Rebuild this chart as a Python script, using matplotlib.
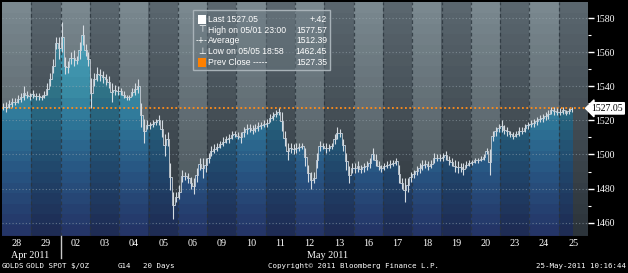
import numpy as np
import matplotlib.pyplot as plt
from matplotlib.patches import Polygon, Rectangle

# Day labels (20 trading days) and intraday bars (10 per day, last day partial)
days = ["28", "29", "02", "03", "04", "05", "06", "09", "10", "11",
        "12", "13", "16", "17", "18", "19", "20", "23", "24", "25"]
bars_per_day = 10

highs = [
    1530, 1531, 1532, 1533, 1533, 1535, 1536, 1540, 1537, 1536,     # 28
    1538, 1536, 1536, 1535, 1537, 1542, 1548, 1556, 1569, 1569,     # 29
    1577.57, 1557, 1555, 1560, 1561, 1558, 1566, 1576, 1565, 1560,  # 02
    1545, 1548, 1551, 1550, 1549, 1547, 1546, 1542, 1541, 1540,     # 03
    1539, 1537, 1535, 1535, 1539, 1542, 1544, 1530, 1521, 1520,     # 04
    1519, 1520, 1521, 1523, 1520, 1512, 1513, 1495, 1478, 1478,     # 05
    1482, 1491, 1490, 1489, 1487, 1486, 1492, 1498, 1498, 1498,     # 06
    1501, 1505, 1506, 1507, 1508, 1510, 1511, 1512, 1514, 1514,     # 09
    1513, 1513, 1516, 1518, 1518, 1517, 1518, 1519, 1519, 1520,     # 10
    1521, 1524, 1525, 1526, 1527, 1525, 1514, 1507, 1507, 1506,     # 11
    1507, 1507, 1507, 1504, 1494, 1490, 1490, 1501, 1508, 1507,     # 12
    1507, 1506, 1507, 1512, 1516, 1515, 1509, 1501, 1493, 1495,     # 13
    1495, 1496, 1494, 1495, 1496, 1498, 1504, 1500, 1496, 1494,     # 16
    1495, 1496, 1497, 1497, 1498, 1494, 1486, 1486, 1486, 1490,     # 17
    1491, 1493, 1495, 1497, 1497, 1496, 1497, 1501, 1500, 1500,     # 18
    1501, 1502, 1499, 1498, 1497, 1496, 1495, 1495, 1496, 1497,     # 19
    1497, 1498, 1498, 1499, 1500, 1504, 1503, 1514, 1516, 1518,     # 20
    1520, 1517, 1516, 1514, 1513, 1514, 1516, 1516, 1518, 1519,     # 23
    1520, 1521, 1522, 1523, 1524, 1525, 1526, 1528, 1528, 1527,     # 24
    1527, 1528, 1526, 1527, 1528,                                   # 25
]
lows = [
    1526, 1525, 1527, 1528, 1529, 1530, 1531, 1532, 1533, 1532,
    1533, 1532, 1532, 1532, 1533, 1535, 1540, 1548, 1562, 1556,
    1560, 1547, 1548, 1553, 1552, 1553, 1556, 1564, 1558, 1552,
    1527, 1540, 1543, 1543, 1542, 1541, 1539, 1531, 1535, 1535,
    1535, 1533, 1532, 1532, 1534, 1535, 1536, 1516, 1507, 1515,
    1515, 1516, 1517, 1517, 1510, 1499, 1505, 1479, 1462.45, 1472,
    1474, 1484, 1485, 1483, 1480, 1477, 1484, 1491, 1486, 1490,
    1495, 1499, 1501, 1502, 1504, 1505, 1507, 1507, 1509, 1510,
    1509, 1507, 1510, 1512, 1513, 1512, 1513, 1514, 1515, 1516,
    1516, 1519, 1520, 1522, 1523, 1514, 1505, 1497, 1501, 1500,
    1501, 1502, 1503, 1493, 1484, 1480, 1483, 1492, 1502, 1503,
    1501, 1502, 1503, 1506, 1509, 1510, 1502, 1491, 1483, 1489,
    1489, 1490, 1489, 1490, 1491, 1492, 1497, 1493, 1491, 1490,
    1491, 1492, 1492, 1493, 1494, 1483, 1480, 1472, 1478, 1484,
    1486, 1488, 1489, 1491, 1492, 1491, 1492, 1495, 1496, 1496,
    1496, 1497, 1494, 1493, 1490, 1489, 1490, 1488, 1492, 1493,
    1494, 1495, 1495, 1496, 1497, 1500, 1488, 1508, 1511, 1513,
    1513, 1512, 1511, 1510, 1509, 1510, 1511, 1512, 1513, 1515,
    1516, 1516, 1517, 1519, 1519, 1520, 1521, 1524, 1523, 1523,
    1523, 1524, 1523, 1524, 1525,
]

last_price = 1527.05
prev_close = 1527.35
y_ticks = [1460, 1480, 1500, 1520, 1540, 1560, 1580]

legend_labels = ["Last 1527.05", "High on 05/01 23:00", "Average",
                 "Low on 05/05 18:58", "Prev Close -----"]
legend_values = ["+.42", "1577.57", "1512.39", "1462.45", "1527.35"]

ylo, yhi = 1452.2, 1589.4
ndays = len(days)

plt.rcParams['font.family'] = ['Liberation Serif', 'DejaVu Sans']

fig = plt.figure(figsize=(6.28, 2.73), dpi=100, facecolor='black')
ax = fig.add_axes([2 / 628, 37 / 273, 586 / 628, 234 / 273])
ax.set_facecolor('black')
ax.set_xlim(0, ndays)
ax.set_ylim(ylo, yhi)

# ---- background: alternating day bands with stepped vertical gradient
ny, per = 234, 30
t = np.floor(np.linspace(0, 1, ny) * 22) / 22
band = (np.arange(ndays * per) // per) % 2  # 0 light, 1 dark

def grad(top, bot):
    top, bot = np.array(top, float), np.array(bot, float)
    return top[None, :] + (bot - top)[None, :] * t[:, None]

g_light = grad((122, 136, 143), (66, 76, 82))
g_dark = grad((90, 102, 110), (42, 50, 57))
gray = np.where(band[None, :, None] == 0, g_light[:, None, :], g_dark[:, None, :])
ax.imshow(gray / 255, extent=[0, ndays, ylo, yhi], aspect='auto',
          origin='upper', zorder=0, interpolation='nearest')

price_rows = yhi - t * (yhi - ylo)
kp = [1452, 1490, 1520, 1540, 1590]
kc = [(36, 48, 98), (40, 82, 128), (45, 115, 150), (58, 140, 165), (82, 170, 195)]
b_light = np.stack([np.interp(price_rows, kp, [c[i] for c in kc]) for i in range(3)], axis=1)
b_dark = b_light * 0.82
blue = np.where(band[None, :, None] == 0, b_light[:, None, :], b_dark[:, None, :])
blue_im = ax.imshow(blue / 255, extent=[0, ndays, ylo, yhi], aspect='auto',
                    origin='upper', zorder=1, interpolation='nearest')

# bar positions
n = len(highs)
xs = np.arange(n) / bars_per_day + 0.5 / bars_per_day
hi = np.array(highs)
lo = np.array(lows)
mid = (hi + lo) / 2
w = 0.5 / bars_per_day

verts = [(0, ylo)]
for x, m in zip(xs, mid):
    verts += [(x - w, m), (x + w, m)]
verts += [(xs[-1] + w, ylo)]
clip = Polygon(verts, closed=True, facecolor='none', edgecolor='none')
ax.add_patch(clip)
blue_im.set_clip_path(clip)

# grid
for yv in y_ticks:
    ax.axhline(yv, color='#9aa8b0', alpha=0.55, lw=0.8, ls=(0, (1, 2)), zorder=2)
for d in range(1, ndays):
    ax.axvline(d, color='#2a343c', alpha=0.8, lw=0.9, ls=(0, (3, 2)), zorder=2)

ax.axhline(prev_close, color='#ff8c1a', lw=1.3, ls=(0, (1, 1.4)), zorder=3)

# price bars
ax.vlines(xs, lo, hi, color='#d4dbe1', lw=0.8, zorder=4)
ax.step(xs, mid, where='mid', color='#c8d0d8', lw=0.6, zorder=4)

# axes styling
ax.set_xticks([])
for s in ax.spines.values():
    s.set_visible(False)
ax.yaxis.tick_right()
ax.set_yticks(y_ticks)
ax.set_yticks(np.arange(1460, 1590, 10), minor=True)
ax.tick_params(axis='y', which='major', colors='white', length=4, width=1,
               direction='out', labelsize=7, pad=1.5)
ax.tick_params(axis='y', which='minor', colors='white', length=2.5, width=0.8,
               direction='out')

ax.text(1.006, last_price, f"{last_price:.2f}", transform=ax.get_yaxis_transform(),
        ha='left', va='center', fontsize=7, color='black', zorder=10, clip_on=False,
        bbox=dict(boxstyle='larrow,pad=0.12', fc='white', ec='white'))

# day labels and months
xt = ax.get_xaxis_transform()
for i, dlab in enumerate(days):
    ax.text(i + 0.5, -0.03, dlab, transform=xt, ha='center', va='center',
            fontsize=7.3, color='white', clip_on=False)
ax.text(0.97, -0.082, "Apr 2011", transform=xt, ha='center', va='center',
        fontsize=7.3, color='white', clip_on=False)
ax.text(11.1, -0.082, "May 2011", transform=xt, ha='center', va='center',
        fontsize=7.3, color='white', clip_on=False)
ax.axvline(2, ymin=-0.094, ymax=0, color='#c8c8c8', lw=1, clip_on=False)

# legend box
ax.add_patch(Rectangle((0.326, 0.709), 0.234, 0.257, transform=ax.transAxes,
                       facecolor='#6a7880', alpha=0.55, edgecolor='none', zorder=5))
ax.add_patch(Rectangle((0.326, 0.709), 0.234, 0.257, transform=ax.transAxes,
                       facecolor='none', edgecolor='#a8b2b8', lw=1, zorder=6))
rows_y = [0.926, 0.880, 0.835, 0.788, 0.741]
lf = ['Liberation Sans', 'DejaVu Sans']
for yv, lab, val in zip(rows_y, legend_labels, legend_values):
    ax.text(0.3515, yv, lab, transform=ax.transAxes, ha='left', va='center',
            fontsize=6.2, color='white', family=lf, zorder=7)
    ax.text(0.5546, yv, val, transform=ax.transAxes, ha='right', va='center',
            fontsize=6.2, color='white', family=lf, zorder=7)
ax.add_patch(Rectangle((0.3345, rows_y[0] - 0.018), 0.0135, 0.036,
                       transform=ax.transAxes, facecolor='white', zorder=7))
ax.add_patch(Rectangle((0.3345, rows_y[4] - 0.018), 0.0135, 0.036,
                       transform=ax.transAxes, facecolor='#ff8000', zorder=7))
ax.text(0.3412, rows_y[1], "\u22a4", transform=ax.transAxes, ha='center', va='center',
        fontsize=6.5, color='white', family='DejaVu Sans', zorder=7)
ax.text(0.3412, rows_y[3], "\u22a5", transform=ax.transAxes, ha='center', va='center',
        fontsize=6.5, color='white', family='DejaVu Sans', zorder=7)
ax.text(0.3412, rows_y[2], "-+-", transform=ax.transAxes, ha='center', va='center',
        fontsize=5.5, color='white', family='DejaVu Sans', zorder=7)

# footer
fy = 7 / 273
ff = 'DejaVu Sans Mono'
fs = 5.4
fig.text(2 / 628, fy, "GOLDS", color='white', fontsize=fs, family=ff, va='center')
fig.text(26 / 628, fy, "GOLD SPOT $/OZ", color='white', fontsize=fs, family=ff, va='center')
fig.text(118 / 628, fy, "G14", color='white', fontsize=fs, family=ff, va='center')
fig.text(143 / 628, fy, "20 Days", color='white', fontsize=fs, family=ff, va='center')
fig.text(354 / 628, fy, "Copyright\u00a9 2011 Bloomberg Finance L.P.", color='white',
         fontsize=fs, family=ff, va='center', ha='center')
fig.text(626 / 628, fy, "25-May-2011 10:16:44", color='white', fontsize=fs,
         family=ff, va='center', ha='right')

fig.savefig('out.png', dpi=100, facecolor='black')
